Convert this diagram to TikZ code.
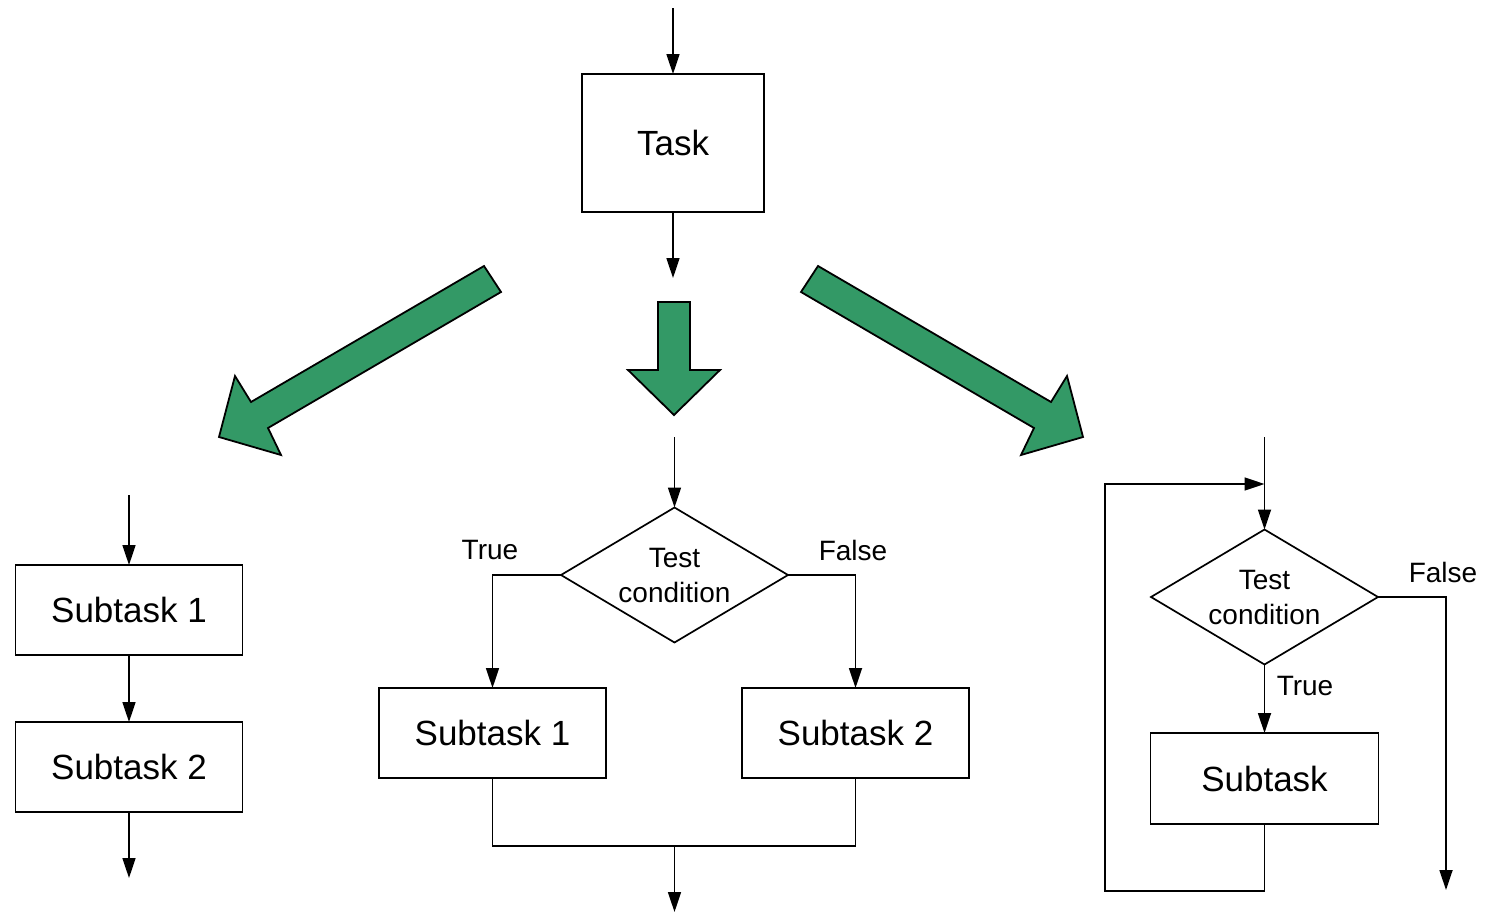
\documentclass[tikz,border=0pt]{standalone}
\usepackage{fontspec}
\setmainfont{Liberation Sans}
\usetikzlibrary{arrows.meta,shapes.geometric}
\definecolor{flowgreen}{RGB}{51,153,102}
\tikzset{
  box/.style={draw,line width=1.7pt,inner sep=0pt,outer sep=0pt,minimum width=227pt,minimum height=90pt,font=\fontsize{35}{40}\selectfont},
  cond/.style={draw,diamond,shape aspect=1.68,line width=1.7pt,inner sep=0pt,outer sep=0pt,minimum width=227pt,minimum height=135pt,align=center,font=\fontsize{28}{35}\selectfont},
  lbl/.style={inner sep=0pt,font=\fontsize{28}{34}\selectfont},
  conn/.style={line width=1.7pt},
  arr/.style={conn,-{Triangle[length=20pt,width=13pt]}},
  garrow/.style={draw=black,line width=1.8pt,fill=flowgreen,line join=miter}
}
\begin{document}
\begin{tikzpicture}[x=1pt,y=-1pt]
\useasboundingbox (0,0) rectangle (1493,913);
% top task
\node[box,minimum width=182pt,minimum height=138pt] (task) at (673,143) {Task};
\coordinate (tin) at (673,8);
\coordinate (tout) at (673,278);
\draw[arr] (tin) -- (task.north);
\draw[arr] (task.south) -- (tout);
% green arrows
\draw[garrow] (484,266) -- (501,292) -- (268,428) -- (281,455) -- (219,437) -- (235,376) -- (251,402) -- cycle;
\draw[garrow] (658,302) -- (690,302) -- (690,370) -- (720,370) -- (674,415) -- (628,370) -- (658,370) -- cycle;
\draw[garrow] (818,266) -- (801,292) -- (1034,428) -- (1021,455) -- (1083,437) -- (1067,376) -- (1051,402) -- cycle;
% left: sequence
\node[box] (l1) at (129,610) {Subtask 1};
\node[box] (l2) at (129,767) {Subtask 2};
\coordinate (lin) at (129,495);
\coordinate (lout) at (129,878);
\draw[arr] (lin) -- (l1.north);
\draw[arr] (l1.south) -- (l2.north);
\draw[arr] (l2.south) -- (lout);
% middle: selection
\node[cond] (md) at (674.5,575) {Test\\condition};
\node[box] (ms1) at (492.5,733) {Subtask 1};
\node[box] (ms2) at (855.5,733) {Subtask 2};
\coordinate (min) at (674.5,437);
\coordinate (mjoin) at (674.5,846);
\coordinate (mout) at (674.5,912);
\draw[arr] (min) -- (md.north);
\draw[arr] (md.west) -| (ms1.north);
\draw[arr] (md.east) -| (ms2.north);
\draw[conn] (ms1.south) |- (mjoin) -| (ms2.south);
\draw[arr] (mjoin) -- (mout);
\node[lbl] (mtrue) at (490,550) {True};
\node[lbl] (mfalse) at (853,550) {False};
% right: loop
\node[cond] (rd) at (1264.5,597) {Test\\condition};
\node[box,minimum width=228pt,minimum height=91pt] (rs) at (1264.5,778.5) {Subtask};
\coordinate (rin) at (1264.5,437);
\coordinate (rloop) at (1264.5,484);
\coordinate (rbl) at (1105,891);
\coordinate (rfout) at (1446,890);
\draw[arr] (rin) -- (rd.north);
\draw[arr] (rd.south) -- (rs.north);
\draw[arr] (rs.south) |- (rbl) |- (rloop);
\draw[arr] (rd.east) -| (rfout);
\node[lbl] (rtrue) at (1305,686) {True};
\node[lbl] (rfalse) at (1443,572) {False};
\end{tikzpicture}
\end{document}
